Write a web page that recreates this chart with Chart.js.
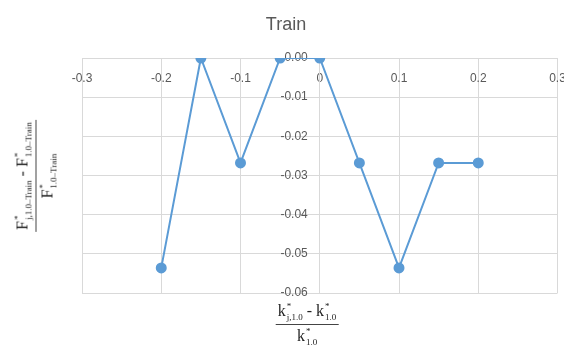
<!DOCTYPE html>
<html>
<head>
<meta charset="utf-8">
<script src="https://cdn.jsdelivr.net/npm/chart.js@4.4.0/dist/chart.umd.min.js"></script>
<style>
  body { margin: 0; background: #fff; }
  #wrap { position: relative; width: 564px; height: 352px; }
  #title { position: absolute; left: 0; width: 572px; top: 14px; text-align: center; font-family: "Liberation Sans", sans-serif; font-size: 18px; color: #595959; }
  .frac { position: absolute; font-family: "Liberation Serif", "DejaVu Serif", serif; color: #222; text-align: center; font-size: 16px; line-height: 1; }
  .frac .num { border-bottom: 1px solid #444; padding: 0 2px 2px 2px; white-space: nowrap; }
  .frac .den { padding-top: 2px; white-space: nowrap; }
  .ss { display: inline-flex; flex-direction: column; vertical-align: middle; font-size: 9px; line-height: 9px; text-align: left; margin-left: 1px; }
  .ss span:first-child { margin-bottom: 2px; }
  #ytitle { left: 36px; top: 176px; transform: translate(-50%, -50%) rotate(-90deg); }
  #xtitle { left: 307px; top: 302px; transform: translateX(-50%); }
</style>
</head>
<body>
<div id="wrap">
  <canvas id="chart" width="564" height="352"></canvas>
  <div id="title">Train</div>
  <div class="frac" id="ytitle">
    <div class="num">F<span class="ss"><span>*</span><span>j,1.0&ndash;Train</span></span> - F<span class="ss"><span>*</span><span>1.0&ndash;Train</span></span></div>
    <div class="den">F<span class="ss"><span>*</span><span>1.0&ndash;Train</span></span></div>
  </div>
  <div class="frac" id="xtitle">
    <div class="num">k<span class="ss"><span>*</span><span>j,1.0</span></span> - k<span class="ss"><span>*</span><span>1.0</span></span></div>
    <div class="den">k<span class="ss"><span>*</span><span>1.0</span></span></div>
  </div>
</div>
<script>
// values
const xVals = [-0.2, -0.15, -0.1, -0.05, 0, 0.05, 0.1, 0.15, 0.2];
const yVals = [-0.0536, 0, -0.0268, 0, 0, -0.0268, -0.0536, -0.0268, -0.0268];
const xTicks = [-0.3, -0.2, -0.1, 0, 0.1, 0.2, 0.3];
const yTicks = [0, -0.01, -0.02, -0.03, -0.04, -0.05, -0.06];

const blue = '#5b9bd5';
const grey = '#595959';
const gridCol = '#d9d9d9';

const points = xVals.map((x, i) => ({ x: x, y: yVals[i] }));

// keep the tick labels from pushing the plot area inwards
const noPad = s => { s.paddingLeft = 0; s.paddingRight = 0; s.paddingTop = 0; s.paddingBottom = 0; };

new Chart(document.getElementById('chart'), {
  type: 'scatter',
  data: {
    datasets: [{
      data: points,
      showLine: true,
      borderColor: blue,
      backgroundColor: blue,
      borderWidth: 2,
      pointRadius: 4.5,
      pointHoverRadius: 4.5
    }]
  },
  options: {
    responsive: false,
    animation: false,
    layout: { padding: { top: 58, left: 82, right: 6, bottom: 59 } },
    plugins: {
      legend: { display: false },
      tooltip: { enabled: false },
      title: { display: false }
    },
    scales: {
      x: {
        type: 'linear',
        position: { y: 0 },
        min: -0.3,
        max: 0.3,
        afterFit: noPad,
        afterBuildTicks: s => { s.ticks = xTicks.map(v => ({ value: v })); },
        ticks: {
          color: grey,
          font: { family: 'Liberation Sans', size: 12 },
          padding: 13,
          callback: v => String(Math.round(v * 10) / 10)
        },
        grid: { color: gridCol, drawTicks: false },
        border: { color: gridCol }
      },
      y: {
        type: 'linear',
        position: { x: 0 },
        min: -0.06,
        max: 0,
        afterFit: noPad,
        afterBuildTicks: s => { s.ticks = yTicks.map(v => ({ value: v })); },
        ticks: {
          color: grey,
          font: { family: 'Liberation Sans', size: 12 },
          // labels sit right-aligned on the axis line, so pad with en spaces
          callback: v => (Math.abs(v) < 1e-9 ? 0 : v).toFixed(2) + '\u2002\u2002'
        },
        grid: { color: gridCol, drawTicks: false },
        border: { color: gridCol }
      }
    }
  }
});
</script>
</body>
</html>
